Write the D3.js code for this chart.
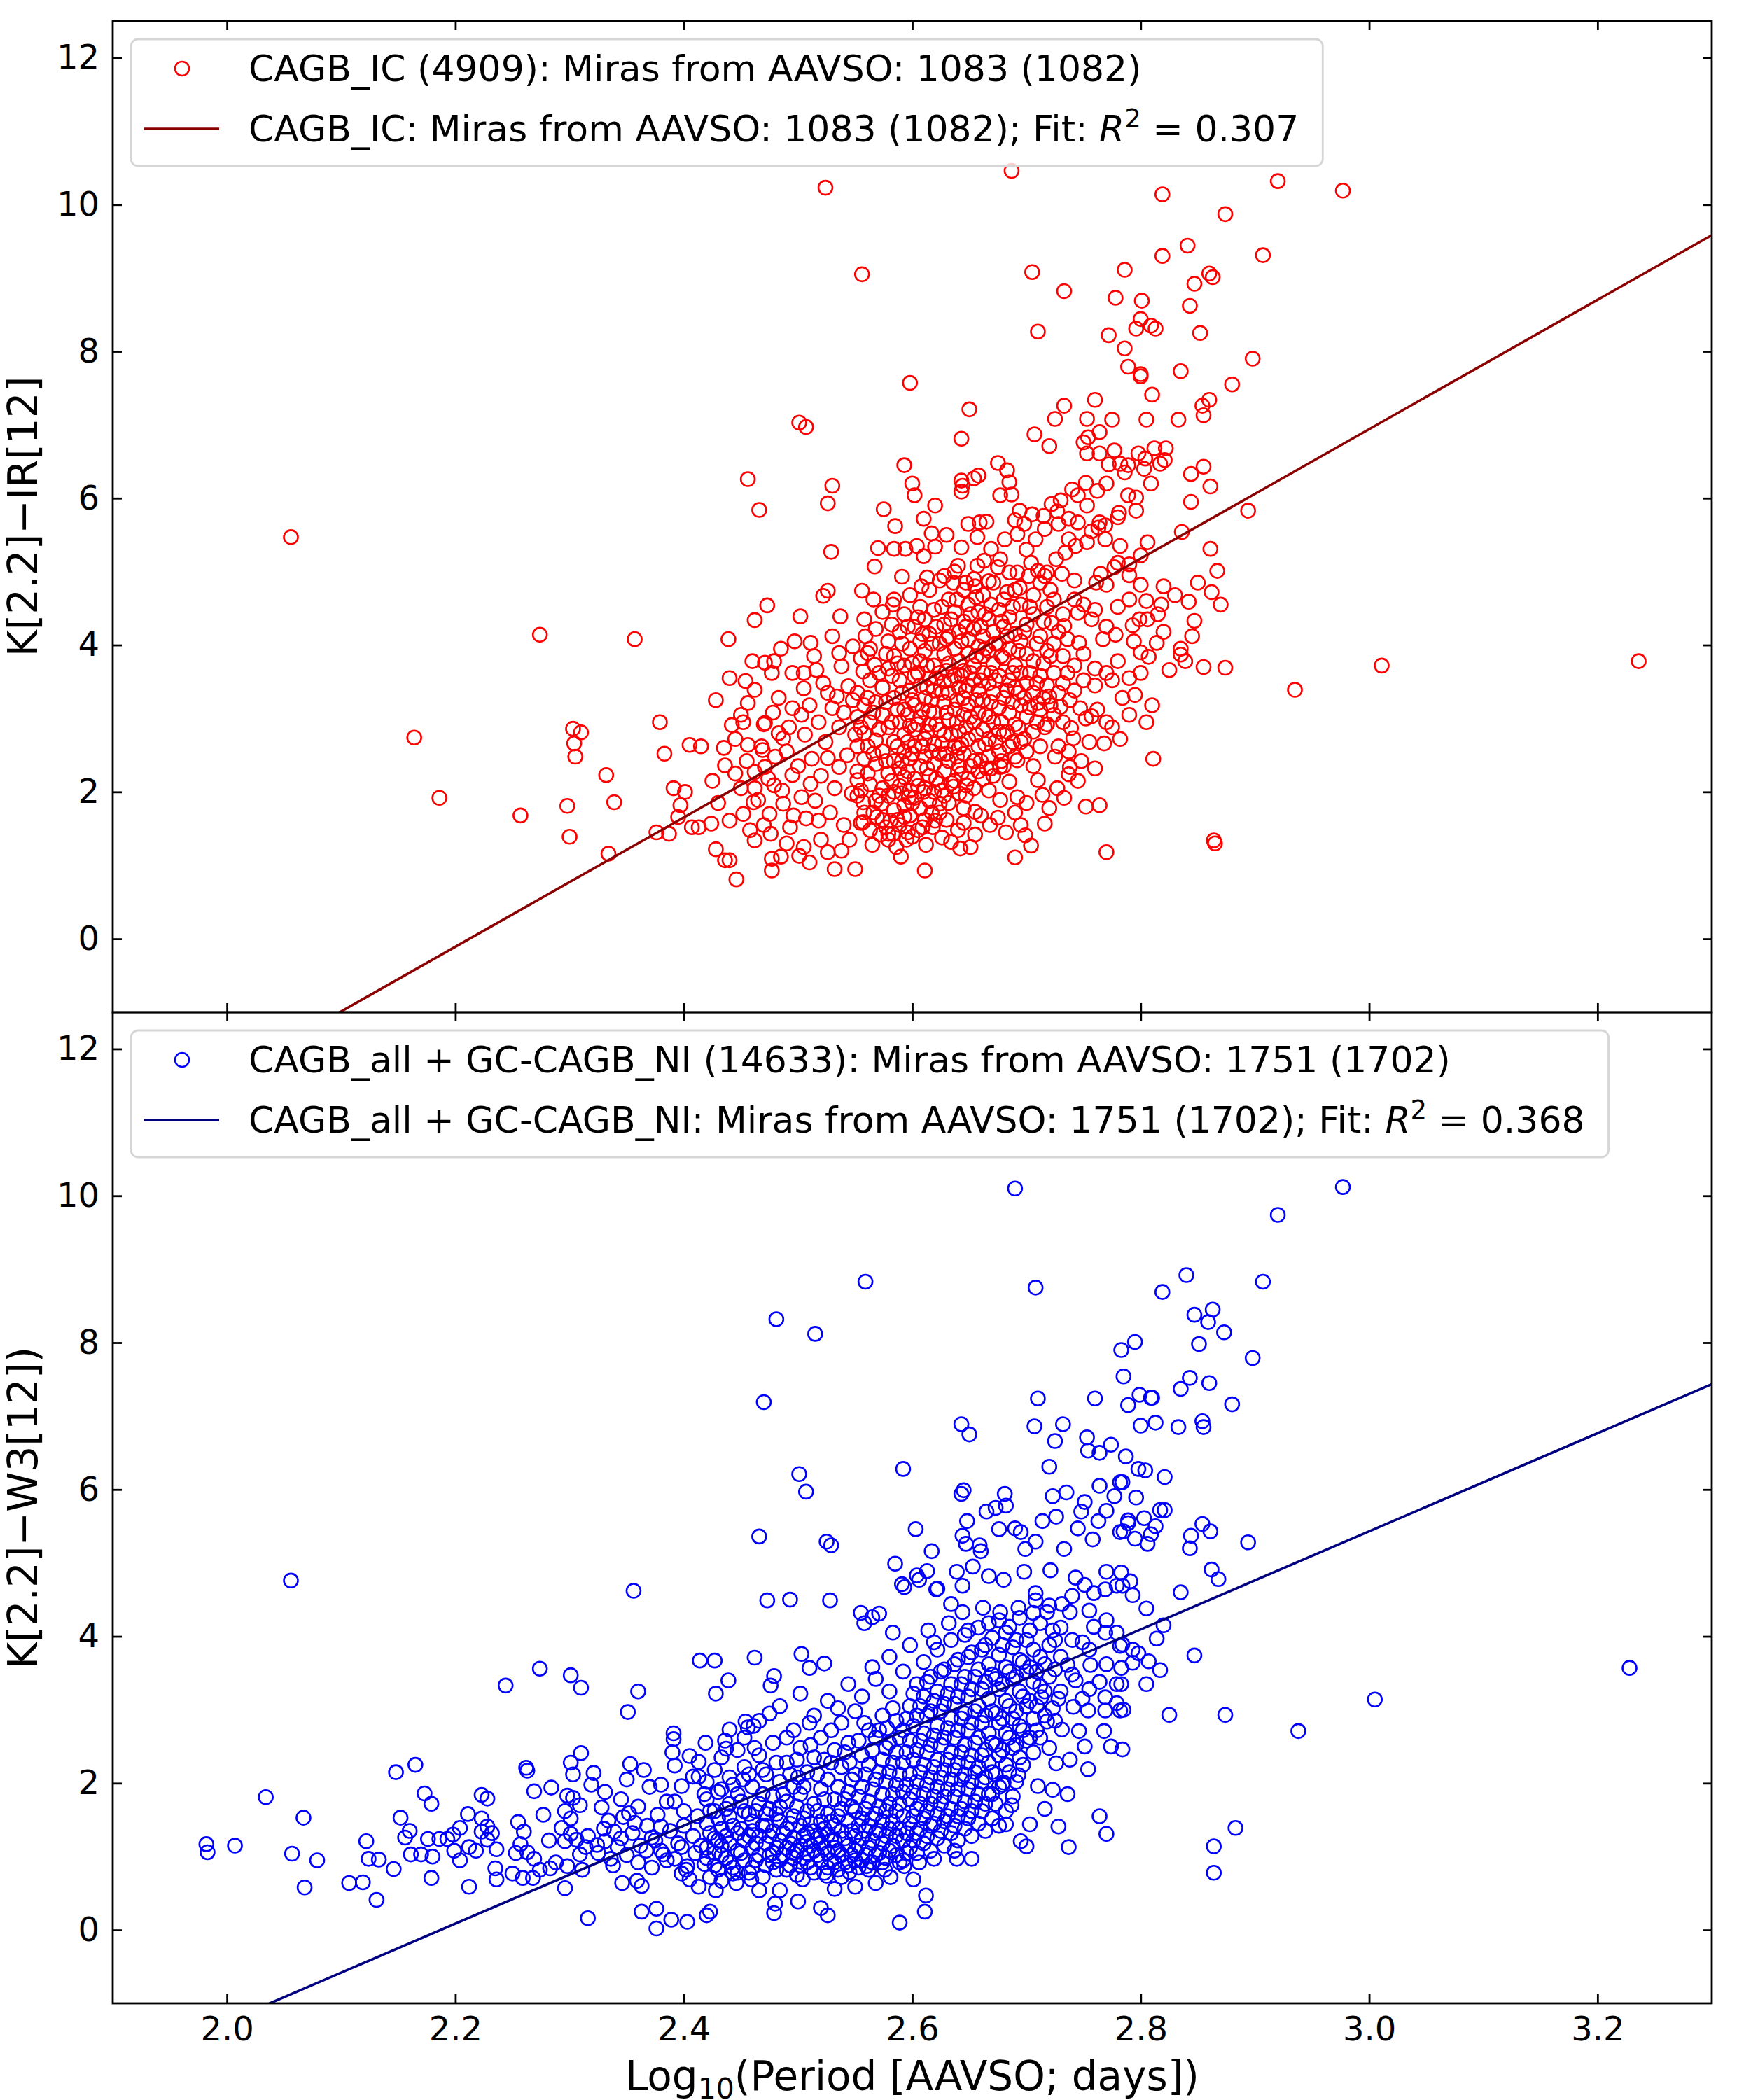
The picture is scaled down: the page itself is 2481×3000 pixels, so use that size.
<!DOCTYPE html>
<html>
<head>
<meta charset="utf-8">
<script src="https://cdn.jsdelivr.net/npm/d3@7"></script>
<style>
  body { margin: 0; background: #fff; }
</style>
</head>
<body>
<div id="chart"></div>
<script>
// axis setup
var xDomain = [1.9, 3.3];
var yDomain = [-1, 12.5];
var xTicks = [2.0, 2.2, 2.4, 2.6, 2.8, 3.0, 3.2];
var yTicks = [0, 2, 4, 6, 8, 10, 12];

// fits: [intercept, slope]
var topFit = [-19.49, 8.81];
var bottomFit = [-14.61, 6.68];

// top panel: K[2.2]-IR[12] vs log period
var topPoints = [
  // left, sparse
  [2.056,5.47],[2.164,2.74],[2.186,1.92],[2.274,4.14],[2.257,1.68],[2.298,1.81],[2.300,1.39],[2.303,2.86],
  [2.310,2.81],[2.305,2.48],[2.304,2.66],[2.332,2.23],[2.339,1.86],[2.334,1.16],[2.357,4.08],
  // lower left
  [2.379,2.95],[2.383,2.52],[2.405,2.64],[2.415,2.62],[2.391,2.05],[2.401,2.00],[2.397,1.82],[2.395,1.66],
  [2.376,1.45],[2.387,1.43],[2.407,1.52],[2.413,1.52],[2.424,1.57],[2.428,1.22],[2.436,1.07],[2.440,1.07],
  [2.446,0.81],[2.436,2.36],[2.445,2.25],[2.462,2.27],[2.471,2.34],[2.462,1.34],[2.476,1.43],[2.477,1.09],
  [2.477,0.93],[2.501,1.13],[2.510,1.04],[2.526,1.18],[2.532,0.95],[2.550,0.95],[2.611,0.93],[2.579,1.43],
  [2.583,1.43],[2.600,1.39],[2.620,1.61],[2.634,1.32],[2.642,1.23],[2.651,1.25],[2.655,1.73],[2.647,2.09],
  [2.667,2.02],[2.677,1.89],[2.692,1.93],[2.685,2.14],[2.665,2.32],[2.692,2.43],[2.677,2.34],[2.526,2.46],
  [2.536,2.34],[2.552,2.16],[2.557,1.86],[2.573,1.84],[2.581,1.61],[2.593,1.66],[2.597,1.93],[2.610,2.00],
  [2.624,1.84],[2.636,2.07],[2.557,1.59],[2.569,1.66],[2.507,1.64],[2.518,1.61],[2.493,1.52],[2.487,1.84],
  [2.503,1.93],[2.511,2.11],[2.495,2.23],[2.479,2.09],[2.465,1.89],[2.452,1.70],[2.440,1.61],[2.461,1.86],
  [2.475,1.70],
  // left middle
  [2.454,3.51],[2.462,3.39],[2.471,3.76],[2.479,3.78],[2.477,3.62],[2.495,3.62],[2.505,3.62],[2.516,3.66],
  [2.522,3.48],[2.536,3.89],[2.548,3.98],[2.559,4.12],[2.561,3.89],[2.557,3.64],[2.567,3.73],[2.538,3.71],
  [2.544,3.44],[2.534,3.30],[2.530,3.14],[2.503,3.05],[2.505,3.41],[2.483,3.28],[2.495,3.14],[2.471,2.94],
  [2.483,2.80],[2.487,2.73],[2.456,2.64],[2.469,2.57],[2.428,3.25],[2.456,3.21],[2.442,2.91],
  // upper edge
  [2.456,6.26],[2.466,5.84],[2.501,7.03],[2.507,6.97],[2.526,5.93],[2.530,6.17],[2.529,5.27],[2.593,6.45],
  [2.602,6.04],[2.643,6.81],[2.643,6.24],[2.644,6.17],[2.643,6.09],[2.654,6.27],[2.658,6.31],[2.675,6.48],
  [2.683,6.38],[2.685,6.22],[2.677,6.04],[2.687,6.05],[2.707,6.87],[2.720,6.71],
  [2.570,5.32],[2.584,5.31],[2.594,5.31],[2.604,5.35],[2.617,5.52],[2.620,5.34],[2.610,5.21],[2.567,5.07],
  [2.591,4.93],[2.608,4.80],[2.556,4.74],[2.526,4.74],[2.522,4.67],[2.583,4.55],[2.537,4.39],[2.502,4.39],
  [2.473,4.54],[2.462,4.34],[2.439,4.08],[2.511,4.03],
  // top right
  [2.524,10.23],[2.687,10.46],[2.556,9.05],[2.819,10.14],[2.920,10.32],[2.977,10.19],[2.874,9.87],[2.841,9.44],
  [2.819,9.30],[2.907,9.31],[2.705,9.08],[2.786,9.11],[2.860,9.06],[2.863,9.01],[2.847,8.92],[2.733,8.82],
  [2.778,8.73],[2.801,8.69],[2.843,8.62],[2.800,8.44],[2.796,8.31],[2.809,8.35],[2.813,8.31],[2.852,8.25],
  [2.710,8.27],[2.772,8.22],[2.786,8.04],[2.789,7.79],[2.800,7.69],[2.800,7.66],[2.835,7.73],[2.898,7.90],
  [2.880,7.55],[2.598,7.57],[2.650,7.21],[2.733,7.26],[2.760,7.34],[2.810,7.41],[2.860,7.34],[2.854,7.26],
  [2.855,7.13],[2.725,7.08],[2.753,7.08],[2.775,7.07],[2.805,7.07],[2.833,7.07],
  [2.764,6.90],[2.754,6.83],[2.750,6.76],[2.753,6.61],[2.764,6.61],[2.777,6.65],[2.772,6.46],[2.782,6.47],
  [2.786,6.35],[2.789,6.45],[2.798,6.61],[2.804,6.54],[2.803,6.40],[2.812,6.68],[2.822,6.68],[2.817,6.47],
  [2.821,6.52],[2.809,6.20],[2.844,6.33],[2.855,6.43],[2.861,6.16],[2.844,5.95],[2.894,5.83],
  // upper right of core
  [2.649,5.65],[2.659,5.67],[2.665,5.68],[2.669,5.31],[2.657,5.47],[2.681,5.44],[2.694,5.83],[2.698,5.65],
  [2.692,5.51],[2.708,5.44],[2.715,5.76],[2.722,5.92],[2.730,5.97],[2.728,5.65],[2.737,5.44],[2.745,6.04],
  [2.753,5.90],[2.762,6.10],[2.764,5.67],[2.769,5.44],[2.782,5.35],[2.781,5.80],[2.789,6.04],[2.796,5.83],
  [2.790,5.10],[2.777,5.06],[2.761,4.85],[2.765,4.97],[2.731,4.97],[2.716,4.94],[2.704,5.12],[2.692,4.99],
  [2.675,5.06],[2.667,4.87],[2.655,4.80],[2.643,5.33],[2.640,5.08],[2.806,5.40],[2.861,5.31],[2.867,5.01],
  [2.836,5.54],[2.820,4.80],[2.805,4.60],[2.818,4.55],[2.842,4.59],[2.847,4.33],[2.799,4.35],[2.806,4.35],
  [2.793,4.27],
  // right middle
  [2.757,4.35],[2.745,4.44],[2.733,4.26],[2.722,4.30],[2.746,4.03],[2.767,4.08],[2.778,4.14],[2.794,4.05],
  [2.814,4.03],[2.807,3.84],[2.825,3.66],[2.835,3.87],[2.839,3.78],[2.874,3.69],[2.784,3.28],[2.775,2.88],
  [2.768,2.66],[2.811,2.45],[2.752,3.00],[2.757,3.03],[2.747,3.14],[2.738,3.25],[2.730,3.16],[2.720,3.30],
  [2.710,3.21],[2.716,2.88],[2.739,2.87],[2.741,2.73],[2.728,2.62],[2.737,2.55],[2.738,2.34],[2.737,2.24],
  [2.725,2.48],[2.706,2.35],[2.710,2.16],[2.714,1.96],[2.752,1.80],[2.764,1.82],[2.716,1.57],[2.699,1.41],
  [2.704,1.27],[2.690,1.11],[2.770,1.18],[2.864,1.34],[2.865,1.30],[2.935,3.39],[3.011,3.72],[3.236,3.78],
  // dense core
  [2.552,2.62],[2.552,3.02],[2.552,3.35],[2.552,2.28],[2.552,1.95],
  [2.558,2.45],[2.558,2.80],[2.558,3.18],[2.558,4.35],[2.558,1.72],
  [2.563,2.10],[2.563,2.95],[2.563,3.52],[2.563,3.95],[2.563,1.48],
  [2.568,2.38],[2.568,2.70],[2.568,3.22],[2.568,4.22],[2.568,1.88],
  [2.574,1.62],[2.574,2.05],[2.574,2.55],[2.574,3.05],[2.574,3.42],[2.574,4.45],
  [2.579,1.95],[2.579,2.25],[2.579,2.88],[2.579,3.68],[2.579,4.05],[2.579,1.35],
  [2.584,1.75],[2.584,2.42],[2.584,2.68],[2.584,3.28],[2.584,3.85],[2.584,4.62],[2.584,2.00],
  [2.589,2.08],[2.589,2.32],[2.589,2.95],[2.589,3.52],[2.589,4.18],[2.589,1.55],
  [2.593,1.82],[2.593,2.55],[2.593,2.78],[2.593,3.12],[2.593,3.72],[2.593,4.42],[2.593,2.20],
  [2.598,1.68],[2.598,2.02],[2.598,2.45],[2.598,3.38],[2.598,3.95],[2.598,4.68],[2.598,2.90],
  [2.602,2.18],[2.602,2.62],[2.602,2.85],[2.602,3.18],[2.602,3.58],[2.602,4.25],[2.602,1.92],
  [2.607,1.78],[2.607,2.35],[2.607,3.02],[2.607,3.45],[2.607,3.78],[2.607,4.05],[2.607,4.52],
  [2.611,2.05],[2.611,2.48],[2.611,2.72],[2.611,3.28],[2.611,3.92],[2.611,4.35],[2.611,1.62],
  [2.615,1.88],[2.615,2.22],[2.615,2.92],[2.615,3.55],[2.615,4.15],[2.615,4.75],[2.615,3.10],
  [2.619,2.38],[2.619,2.65],[2.619,3.08],[2.619,3.38],[2.619,3.72],[2.619,4.48],[2.619,2.00],
  [2.624,1.72],[2.624,2.12],[2.624,2.52],[2.624,2.85],[2.624,3.62],[2.624,4.02],[2.624,4.88],
  [2.628,2.28],[2.628,2.78],[2.628,3.22],[2.628,3.50],[2.628,3.88],[2.628,4.28],[2.628,1.95],
  [2.632,1.85],[2.632,2.42],[2.632,2.98],[2.632,3.35],[2.632,4.12],[2.632,4.62],[2.632,3.75],
  [2.637,2.15],[2.637,2.62],[2.637,3.12],[2.637,3.58],[2.637,3.95],[2.637,4.45],[2.637,5.00],
  [2.641,1.98],[2.641,2.35],[2.641,2.82],[2.641,3.42],[2.641,3.78],[2.641,4.18],[2.641,2.60],
  [2.645,2.52],[2.645,3.05],[2.645,3.28],[2.645,3.65],[2.645,4.32],[2.645,4.75],[2.645,1.78],
  [2.649,2.18],[2.649,2.72],[2.649,3.18],[2.649,3.88],[2.649,4.08],[2.649,4.55],[2.649,3.45],
  [2.654,2.42],[2.654,2.95],[2.654,3.52],[2.654,3.72],[2.654,4.22],[2.654,2.05],[2.654,4.90],
  [2.658,2.62],[2.658,3.08],[2.658,3.38],[2.658,3.98],[2.658,4.45],[2.658,2.28],
  [2.662,2.18],[2.662,2.85],[2.662,3.25],[2.662,3.62],[2.662,4.12],[2.662,4.68],[2.662,3.85],
  [2.667,2.48],[2.667,3.02],[2.667,3.48],[2.667,3.92],[2.667,4.35],[2.667,2.72],
  [2.671,2.22],[2.671,2.95],[2.671,3.35],[2.671,3.75],[2.671,4.18],[2.671,4.85],
  [2.676,2.55],[2.676,3.15],[2.676,3.58],[2.676,4.02],[2.676,4.48],[2.676,2.82],
  [2.680,2.35],[2.680,2.78],[2.680,3.28],[2.680,3.82],[2.680,4.25],[2.680,4.62],
  [2.685,2.62],[2.685,3.08],[2.685,3.52],[2.685,3.95],[2.685,4.38],
  [2.690,2.48],[2.690,2.92],[2.690,3.42],[2.690,3.72],[2.690,4.15],[2.690,4.75],
  [2.695,2.68],[2.695,3.18],[2.695,3.62],[2.695,4.05],[2.695,4.55],
  [2.700,2.55],[2.700,3.02],[2.700,3.48],[2.700,3.88],[2.700,4.28],
  [2.706,2.82],[2.706,3.35],[2.706,3.78],[2.706,4.42],[2.706,4.68],
  [2.712,2.62],[2.712,3.12],[2.712,3.58],[2.712,4.12],[2.712,4.85],
  [2.718,2.92],[2.718,3.45],[2.718,3.92],[2.718,4.52],
  [2.724,3.05],[2.724,3.62],[2.724,4.02],[2.724,4.62],
  [2.732,2.95],[2.732,3.48],[2.732,3.85],[2.732,4.42],
  [2.742,3.38],[2.742,3.72],[2.742,4.62],[2.742,4.88],
  [2.750,3.52],[2.750,3.88],[2.750,4.55],[2.760,3.45],[2.760,3.68],[2.760,4.48],
  [2.770,3.62],[2.770,4.25],[2.770,4.82],[2.780,3.78],[2.780,4.52],[2.780,5.12],
  [2.790,3.55],[2.790,4.62],[2.790,4.95],[2.800,4.82],[2.800,5.22],[2.800,3.90],
  // more of the dense core
  [2.555,1.58],[2.555,2.02],[2.555,2.88],[2.555,3.82],[2.561,2.25],[2.561,2.62],[2.561,3.28],
  [2.566,1.72],[2.566,2.52],[2.566,3.08],[2.566,4.62],[2.571,1.95],[2.571,2.85],[2.571,3.62],
  [2.577,2.42],[2.577,3.22],[2.577,3.88],[2.577,1.52],[2.582,2.15],[2.582,2.95],[2.582,3.58],[2.582,4.28],
  [2.587,1.62],[2.587,2.62],[2.587,3.12],[2.587,3.75],[2.591,1.98],[2.591,2.42],[2.591,3.35],[2.591,4.02],
  [2.596,2.28],[2.596,2.68],[2.596,3.05],[2.596,4.25],[2.596,1.45],[2.600,1.85],[2.600,2.52],[2.600,3.25],
  [2.600,3.75],[2.605,2.08],[2.605,2.92],[2.605,3.62],[2.605,4.38],[2.609,1.52],[2.609,2.62],[2.609,3.12],
  [2.609,4.15],[2.613,2.32],[2.613,2.82],[2.613,3.42],[2.613,3.72],[2.613,4.92],[2.617,1.72],[2.617,2.55],
  [2.617,3.25],[2.617,4.02],[2.621,2.18],[2.621,2.92],[2.621,3.55],[2.621,4.25],[2.626,2.02],[2.626,2.65],
  [2.626,3.35],[2.626,4.52],[2.630,2.52],[2.630,3.08],[2.630,3.65],[2.630,4.08],[2.634,2.12],[2.634,2.78],
  [2.634,3.52],[2.634,4.35],[2.639,2.48],[2.639,2.95],[2.639,3.25],[2.639,4.62],[2.643,2.25],[2.643,2.65],
  [2.643,3.58],[2.643,4.05],[2.647,1.95],[2.647,2.88],[2.647,3.38],[2.647,4.25],[2.651,2.35],[2.651,3.02],
  [2.651,3.62],[2.651,4.42],[2.656,2.78],[2.656,3.25],[2.656,3.85],[2.656,4.65],[2.660,2.42],[2.660,3.52],
  [2.660,4.25],[2.664,2.65],[2.664,3.05],[2.664,3.95],[2.664,4.42],[2.669,2.32],[2.669,3.22],[2.669,3.62],
  [2.669,4.55],[2.673,2.68],[2.673,3.52],[2.673,4.02],[2.678,2.42],[2.678,2.95],[2.678,3.85],[2.678,4.32],
  [2.683,2.82],[2.683,3.38],[2.683,4.12],[2.683,4.72],[2.688,2.68],[2.688,3.22],[2.688,3.62],[2.688,4.52],
  [2.693,2.88],[2.693,3.35],[2.693,3.92],[2.698,2.72],[2.698,3.28],[2.698,4.18],[2.703,3.15],[2.703,3.62],
  [2.703,4.52],[2.709,2.95],[2.709,3.48],[2.709,4.02],[2.715,3.28],[2.715,3.75],[2.715,4.32],[2.721,3.18],
  [2.721,3.85],[2.721,4.75],[2.728,3.35],[2.728,4.18],[2.736,3.62],[2.736,4.08],
  // upper core band
  [2.628,4.94],[2.636,4.85],[2.647,4.85],[2.657,5.08],[2.663,5.15],[2.677,5.17],[2.685,4.99],[2.694,4.78],
  [2.702,4.94],[2.710,5.01],[2.718,4.99],[2.726,5.17],[2.734,5.26],[2.743,5.35],[2.753,5.40],[2.757,5.55],
  [2.763,5.60],[2.769,5.63],[2.780,5.74],[2.796,6.01],[2.745,5.67],[2.737,5.72],[2.700,5.30],[2.690,5.70],
  [2.705,5.78],[2.716,5.58],[2.727,5.82],[2.740,6.12],[2.752,6.21],[2.770,6.20],
  [2.585,5.62],[2.575,5.85],[2.610,5.72],[2.600,6.20],[2.620,5.90],[2.630,5.50],
  // lower left of core
  [2.455,2.42],[2.462,2.05],[2.468,2.62],[2.474,2.18],[2.480,2.48],[2.486,2.02],[2.490,2.55],[2.496,1.68],
  [2.500,2.35],[2.506,2.78],[2.512,2.45],[2.515,1.88],[2.520,2.22],[2.524,2.68],[2.528,1.72],[2.532,2.05],
  [2.536,2.88],[2.540,1.55],[2.543,2.50],[2.547,1.98],[2.550,2.78],[2.545,1.35],[2.538,1.20],[2.520,1.35],
  [2.505,1.25],[2.490,1.30],[2.485,1.12],[2.470,1.55],[2.458,1.48],[2.450,2.05],[2.445,2.72],[2.452,2.95],
  [2.435,2.60],[2.430,1.85],[2.425,2.15],[2.470,2.92],[2.478,3.08],[2.492,2.88],[2.510,3.18],[2.518,2.95],
  [2.526,3.35],[2.540,3.08],[2.548,3.25],[2.514,3.85],[2.530,4.12],[2.497,4.05],[2.485,3.95],[2.460,3.78],
  [2.440,3.55],[2.450,3.05],
  // lower part of core and right
  [2.565,1.28],[2.572,1.42],[2.586,1.25],[2.590,1.12],[2.595,1.35],[2.605,1.48],[2.612,1.28],[2.618,1.52],
  [2.626,1.38],[2.630,1.62],[2.640,1.48],[2.645,1.58],[2.655,1.42],[2.660,1.68],[2.668,1.55],[2.675,1.65],
  [2.682,1.45],[2.690,1.72],[2.695,1.55],[2.700,1.85],[2.720,1.78],[2.727,2.05],[2.733,1.92],[2.745,2.15],
  [2.748,2.42],[2.755,2.68],[2.760,2.32],[2.762,3.12],[2.770,2.95],[2.775,3.52],[2.782,2.72],[2.790,3.05],
  [2.795,3.32],[2.800,3.62],[2.805,2.95],[2.810,3.18],[2.815,4.42],[2.820,4.18],[2.830,4.68],[2.835,3.95],
  [2.845,4.12],[2.850,4.85],[2.855,3.70],[2.862,4.72],[2.870,4.55]
];

// bottom panel: K[2.2]-W3[12] vs log period
var bottomPoints = [
  // far left
  [1.982,1.17],[1.983,1.06],[2.007,1.15],[2.034,1.81],[2.056,4.76],[2.057,1.04],[2.067,1.53],[2.068,0.58],
  [2.079,0.95],[2.107,0.64],[2.119,0.65],[2.131,0.41],[2.122,1.21],[2.124,0.97],[2.133,0.96],[2.146,0.83],
  [2.148,2.15],[2.165,2.25],[2.152,1.53],[2.160,1.35],[2.156,1.26],[2.173,1.86],[2.179,1.72],[2.161,1.03],
  [2.170,1.03],[2.180,1.00],[2.176,1.24],[2.186,1.24],[2.193,1.24],[2.198,1.30],[2.179,0.71],[2.204,1.39],
  [2.211,1.58],[2.199,1.08],[2.204,0.95],[2.212,1.13],[2.218,1.08],[2.212,0.59],[2.223,1.84],[2.228,1.79],
  [2.223,1.52],[2.228,1.41],[2.232,1.32],[2.223,1.34],[2.228,1.23],[2.236,1.10],[2.235,0.84],[2.236,0.69],
  [2.244,3.33],[2.250,0.77],[2.259,0.71],[2.268,0.71],[2.255,1.47],[2.260,1.34],[2.257,1.17],[2.253,1.05],
  [2.263,1.06],[2.269,0.97],[2.262,2.21],[2.263,2.17],[2.274,3.56],[2.269,1.89],[2.284,1.94],[2.277,1.57],
  [2.274,0.82],[2.283,0.84],[2.296,0.57],[2.282,1.22],[2.301,3.47],[2.310,3.30],[2.301,2.28],[2.310,2.41],
  [2.303,2.12],[2.319,1.98],[2.321,2.14],[2.298,1.83],[2.303,1.80],[2.309,1.70],[2.296,1.62],[2.301,1.52],
  [2.293,1.39],[2.301,1.31],[2.296,1.21],[2.306,1.23],[2.316,1.28],[2.314,1.13],[2.324,1.16],[2.309,1.03],
  [2.288,0.92],[2.298,0.87],[2.311,0.82],[2.316,0.16],[2.328,1.67],[2.331,1.88],[2.334,1.49],[2.339,1.34],
  [2.331,1.21],[2.342,1.13],[2.336,0.97],[2.347,1.54],[2.352,1.59],[2.357,1.46],[2.351,2.97],[2.356,4.62],
  [2.353,2.26],[2.360,3.25],[2.346,0.64],[2.359,0.67],[2.363,0.60],[2.363,0.25],[2.376,0.29],[2.376,0.02],
  [2.389,0.14],[2.403,0.11],
  [2.325,1.05],[2.330,1.38],[2.338,0.88],[2.345,1.25],[2.350,1.02],[2.355,1.32],[2.360,0.92],[2.362,1.15],
  [2.368,1.42],[2.372,0.85],[2.375,1.22],[2.380,1.08],[2.385,0.95],[2.388,1.35],[2.395,1.18],[2.400,1.42],
  [2.402,0.82],[2.408,1.28],[2.412,1.55],[2.415,1.15],[2.418,1.85],[2.360,1.68],[2.345,1.78],[2.370,1.95],
  [2.365,2.18],[2.350,2.05],
  // middle left
  [2.372,1.26],[2.380,1.41],[2.367,1.08],[2.382,1.03],[2.392,0.97],[2.403,0.87],[2.398,1.13],[2.410,1.05],
  [2.418,0.90],[2.377,1.57],[2.385,1.75],[2.392,1.75],[2.400,1.62],[2.380,1.98],[2.398,1.96],[2.408,2.09],
  [2.413,2.09],[2.392,2.24],[2.390,2.42],[2.405,2.37],[2.413,2.29],[2.391,2.68],[2.391,2.60],[2.419,2.55],
  [2.437,2.47],[2.436,2.58],[2.440,2.73],[2.428,3.22],[2.439,3.40],[2.414,3.67],[2.427,3.67],[2.462,3.71],
  [2.456,2.76],[2.454,2.84],[2.461,2.78],[2.479,3.46],[2.476,3.33],[2.503,3.76],[2.523,3.63],[2.510,3.57],
  [2.466,5.36],[2.501,6.21],[2.507,5.97],[2.525,5.29],[2.529,5.24],[2.470,7.19],[2.473,4.49],[2.493,4.50],
  [2.528,4.49],[2.592,6.28],[2.555,4.32],[2.558,4.18],[2.565,4.26],[2.571,4.31],[2.583,4.05],[2.585,4.99],
  [2.591,4.71],[2.593,4.67],[2.606,4.77],[2.613,4.89],[2.621,4.64],[2.622,4.65],[2.603,5.46],[2.617,5.16],
  [2.643,6.89],[2.650,6.75],[2.643,5.94],[2.645,5.99],[2.648,5.57],
  [2.481,8.32],[2.515,8.12],[2.559,8.83],[2.690,10.10],[2.708,8.75],
  // upper cloud
  [2.644,5.37],[2.647,5.26],[2.659,5.24],[2.660,5.16],[2.665,5.70],[2.673,5.75],[2.681,5.94],[2.682,5.78],
  [2.676,5.46],[2.690,5.47],[2.695,5.42],[2.699,5.19],[2.708,5.29],[2.714,5.57],[2.726,5.63],[2.723,5.91],
  [2.735,5.96],[2.707,6.86],[2.710,7.24],[2.720,6.31],[2.725,6.66],[2.732,6.89],[2.753,6.71],[2.754,6.53],
  [2.764,6.50],[2.774,6.61],[2.760,7.24],[2.764,6.05],[2.782,6.10],[2.777,5.91],[2.751,5.83],[2.748,5.70],
  [2.770,5.71],[2.763,5.57],[2.745,5.47],[2.758,5.32],[2.782,5.42],
  [2.604,4.83],[2.639,4.88],[2.644,4.69],[2.653,4.95],[2.667,4.82],[2.680,4.77],[2.698,4.88],[2.708,4.59],
  [2.721,4.90],[2.733,5.19],[2.743,4.80],[2.751,4.70],[2.759,4.59],[2.769,4.64],[2.779,4.69],[2.779,4.05],
  [2.769,4.05],[2.759,4.13],[2.749,3.92],[2.782,3.87],[2.634,4.44],[2.644,4.33],[2.662,4.39],[2.677,4.33],
  [2.693,4.39],[2.708,4.49],[2.718,4.33],[2.731,4.44],[2.738,4.33],[2.632,4.18],[2.649,4.08],[2.667,4.18],
  [2.685,4.13],[2.703,4.08],[2.723,4.08],[2.614,4.08],[2.619,3.92],
  // right side
  [2.736,3.61],[2.743,3.40],[2.756,3.61],[2.764,3.38],[2.779,3.35],[2.769,3.17],[2.779,3.09],[2.782,2.99],
  [2.769,2.99],[2.749,3.15],[2.754,2.99],[2.741,3.04],[2.728,3.15],[2.713,3.17],[2.723,3.02],[2.718,2.84],
  [2.731,2.73],[2.746,2.71],[2.768,2.71],[2.774,2.50],[2.751,2.50],[2.738,2.32],[2.754,2.19],[2.726,2.27],
  [2.710,1.96],[2.723,1.91],[2.736,1.85],[2.716,1.65],[2.703,1.44],[2.728,1.41],[2.700,1.14],[2.737,1.13],
  [2.764,1.55],[2.770,1.31],[2.695,1.21],[2.682,1.44],[2.687,1.70],[2.670,1.85],[2.680,2.01],[2.693,2.11],
  // bottom of core
  [2.589,0.10],[2.611,0.25],[2.612,0.47],[2.601,0.69],[2.581,0.72],[2.568,0.64],[2.550,0.59],[2.532,0.56],
  [2.526,0.20],[2.520,0.30],[2.500,0.39],[2.479,0.23],[2.480,0.36],[2.484,0.54],[2.466,0.54],[2.446,0.64],
  [2.428,0.54],[2.423,0.25],[2.420,0.20],[2.433,0.67],[2.405,0.69],[2.413,0.59],[2.398,0.77],[2.443,0.77],
  [2.459,0.69],[2.504,0.69],[2.525,0.74],[2.545,0.79],[2.560,0.87],[2.576,0.82],[2.593,0.87],[2.606,0.92],
  [2.619,0.97],[2.637,1.08],[2.652,0.97],[2.639,0.97],
  // far right
  [2.977,10.12],[2.920,9.74],[2.840,8.92],[2.907,8.83],[2.819,8.69],[2.847,8.38],[2.863,8.45],[2.859,8.28],
  [2.873,8.14],[2.795,8.01],[2.851,7.98],[2.898,7.79],[2.783,7.90],[2.785,7.54],[2.843,7.52],[2.860,7.45],
  [2.835,7.37],[2.799,7.29],[2.809,7.25],[2.810,7.25],[2.789,7.15],[2.880,7.16],[2.800,6.87],[2.813,6.91],
  [2.833,6.85],[2.854,6.93],[2.855,6.85],[2.787,6.45],[2.798,6.28],[2.804,6.26],[2.821,6.17],[2.784,6.10],
  [2.796,5.89],[2.817,5.72],[2.821,5.72],[2.789,5.58],[2.789,5.54],[2.803,5.61],[2.813,5.50],[2.809,5.39],
  [2.795,5.33],[2.785,5.43],[2.806,5.26],[2.854,5.53],[2.861,5.43],[2.844,5.37],[2.843,5.20],[2.894,5.28],
  [2.862,4.91],[2.868,4.78],[2.783,4.87],[2.791,4.75],[2.784,4.69],[2.793,4.56],[2.835,4.60],[2.805,4.38],
  [2.820,4.15],[2.814,3.97],[2.784,3.89],[2.793,3.82],[2.798,3.77],[2.807,3.66],[2.793,3.64],[2.817,3.54],
  [2.847,3.74],[2.783,3.57],[2.805,3.35],[2.783,3.35],[2.785,3.00],[2.825,2.93],[2.874,2.93],[2.938,2.71],
  [3.005,3.14],[3.228,3.57],[2.784,2.46],[2.883,1.39],[2.864,1.14],[2.864,0.78],
  // dense core
  [2.420,1.12],[2.420,1.45],[2.420,1.78],[2.420,2.02],[2.420,0.98],
  [2.427,1.25],[2.427,1.62],[2.427,0.88],[2.427,2.18],[2.427,1.05],
  [2.433,1.02],[2.433,1.38],[2.433,1.92],[2.433,2.35],[2.433,1.15],
  [2.440,0.92],[2.440,1.18],[2.440,1.55],[2.440,2.08],[2.440,1.72],
  [2.447,1.08],[2.447,1.32],[2.447,1.85],[2.447,2.45],[2.447,0.78],
  [2.453,0.95],[2.453,1.22],[2.453,1.62],[2.453,2.22],[2.453,2.62],
  [2.460,1.12],[2.460,1.48],[2.460,1.95],[2.460,0.85],[2.460,1.35],
  [2.466,1.02],[2.466,1.28],[2.466,1.72],[2.466,2.38],[2.466,2.85],
  [2.472,0.88],[2.472,1.18],[2.472,1.58],[2.472,2.12],[2.472,1.42],
  [2.478,1.05],[2.478,1.35],[2.478,1.82],[2.478,2.55],[2.478,0.92],
  [2.484,0.95],[2.484,1.22],[2.484,1.48],[2.484,2.02],[2.484,3.05],[2.484,1.68],
  [2.490,1.12],[2.490,1.38],[2.490,1.75],[2.490,2.28],[2.490,0.82],
  [2.496,0.98],[2.496,1.25],[2.496,1.55],[2.496,1.95],[2.496,2.72],[2.496,1.05],
  [2.502,1.15],[2.502,1.42],[2.502,1.85],[2.502,2.48],[2.502,0.88],[2.502,3.22],
  [2.508,0.92],[2.508,1.20],[2.508,1.32],[2.508,1.62],[2.508,2.15],[2.508,1.05],
  [2.514,1.08],[2.514,1.35],[2.514,1.72],[2.514,2.35],[2.514,2.92],[2.514,0.78],
  [2.520,0.95],[2.520,1.18],[2.520,1.48],[2.520,1.92],[2.520,2.62],[2.520,1.28],
  [2.526,1.05],[2.526,1.30],[2.526,1.58],[2.526,2.05],[2.526,3.12],[2.526,0.85],
  [2.532,0.92],[2.532,1.22],[2.532,1.42],[2.532,1.78],[2.532,2.45],[2.532,1.12],
  [2.538,1.02],[2.538,1.35],[2.538,1.65],[2.538,2.22],[2.538,2.82],[2.538,0.72],
  [2.544,0.88],[2.544,1.15],[2.544,1.48],[2.544,1.88],[2.544,2.55],[2.544,3.35],
  [2.550,1.08],[2.550,1.28],[2.550,1.62],[2.550,2.12],[2.550,2.98],[2.550,0.95],
  [2.556,0.95],[2.556,1.25],[2.556,1.52],[2.556,1.95],[2.556,2.38],[2.556,3.18],
  [2.562,1.12],[2.562,1.42],[2.562,1.75],[2.562,2.25],[2.562,2.72],[2.562,0.82],
  [2.568,1.02],[2.568,1.32],[2.568,1.58],[2.568,2.05],[2.568,2.62],[2.568,3.42],
  [2.574,0.92],[2.574,1.18],[2.574,1.48],[2.574,1.85],[2.574,2.32],[2.574,2.92],
  [2.580,1.08],[2.580,1.38],[2.580,1.72],[2.580,2.15],[2.580,2.55],[2.580,3.25],[2.580,3.72],
  [2.586,1.02],[2.586,1.28],[2.586,1.62],[2.586,1.98],[2.586,2.42],[2.586,2.85],
  [2.592,0.95],[2.592,1.22],[2.592,1.55],[2.592,1.88],[2.592,2.28],[2.592,2.72],[2.592,3.52],
  [2.598,1.12],[2.598,1.45],[2.598,1.78],[2.598,2.12],[2.598,2.58],[2.598,3.05],[2.598,3.88],
  [2.604,1.05],[2.604,1.32],[2.604,1.65],[2.604,2.02],[2.604,2.45],[2.604,2.92],[2.604,3.35],
  [2.610,1.18],[2.610,1.52],[2.610,1.85],[2.610,2.25],[2.610,2.68],[2.610,3.18],[2.610,3.65],
  [2.616,1.08],[2.616,1.42],[2.616,1.72],[2.616,2.08],[2.616,2.52],[2.616,2.98],[2.616,3.45],
  [2.622,1.25],[2.622,1.58],[2.622,1.95],[2.622,2.32],[2.622,2.78],[2.622,3.25],[2.622,3.82],
  [2.628,1.15],[2.628,1.48],[2.628,1.82],[2.628,2.18],[2.628,2.62],[2.628,3.08],[2.628,3.55],
  [2.634,1.32],[2.634,1.65],[2.634,2.05],[2.634,2.42],[2.634,2.88],[2.634,3.35],[2.634,3.95],
  [2.640,1.22],[2.640,1.55],[2.640,1.92],[2.640,2.28],[2.640,2.72],[2.640,3.18],[2.640,3.68],
  [2.646,1.38],[2.646,1.75],[2.646,2.12],[2.646,2.52],[2.646,2.95],[2.646,3.45],[2.646,4.02],
  [2.652,1.28],[2.652,1.62],[2.652,2.02],[2.652,2.38],[2.652,2.82],[2.652,3.28],[2.652,3.78],
  [2.658,1.45],[2.658,1.85],[2.658,2.22],[2.658,2.62],[2.658,3.05],[2.658,3.55],[2.658,4.12],
  [2.664,1.35],[2.664,1.72],[2.664,2.08],[2.664,2.45],[2.664,2.92],[2.664,3.38],[2.664,3.88],
  [2.670,1.52],[2.670,2.15],[2.670,2.55],[2.670,2.98],[2.670,3.48],[2.670,3.98],
  [2.676,1.42],[2.676,1.95],[2.676,2.38],[2.676,2.82],[2.676,3.28],[2.676,3.75],[2.676,4.22],
  [2.682,1.62],[2.682,2.25],[2.682,2.68],[2.682,3.12],[2.682,3.58],[2.682,4.05],
  [2.688,1.82],[2.688,2.48],[2.688,2.88],[2.688,3.42],[2.688,3.85],
  [2.694,2.35],[2.694,2.78],[2.694,3.25],[2.694,3.68],[2.694,4.25],
  [2.700,2.58],[2.700,3.05],[2.700,3.52],[2.700,3.95],
  [2.706,2.42],[2.706,2.88],[2.706,3.38],[2.706,3.82],[2.706,4.32],
  [2.712,2.62],[2.712,3.32],[2.712,3.72],[2.712,4.18],
  [2.720,2.48],[2.720,3.45],[2.720,3.88],[2.720,4.42],
  [2.730,3.25],[2.730,3.72],[2.730,4.12],[2.740,3.48],[2.740,3.95],[2.740,4.55],
  [2.755,3.28],[2.755,3.82],[2.755,4.35],[2.770,3.62],[2.770,4.22],[2.770,4.88],
  [2.452,2.05],[2.462,2.48],[2.475,2.95],[2.490,2.62],[2.500,2.08],[2.510,2.82],[2.523,2.32],[2.535,3.02],
  [2.545,2.28],[2.558,2.82],[2.565,3.58],[2.578,2.75],
  // more of the dense core
  [2.423,0.72],[2.423,1.32],[2.423,1.62],[2.430,0.82],[2.430,1.22],[2.430,1.52],[2.430,1.88],
  [2.437,0.98],[2.437,1.28],[2.437,1.65],[2.443,0.85],[2.443,1.42],[2.443,1.98],[2.450,1.05],[2.450,1.38],
  [2.450,1.75],[2.457,0.78],[2.457,1.28],[2.457,1.58],[2.457,2.12],[2.463,0.95],[2.463,1.18],[2.463,1.62],
  [2.469,0.72],[2.469,1.42],[2.469,1.85],[2.469,2.18],[2.475,1.02],[2.475,1.28],[2.475,1.65],[2.481,0.82],
  [2.481,1.12],[2.481,1.58],[2.481,2.28],[2.487,1.02],[2.487,1.32],[2.487,1.85],[2.493,0.88],[2.493,1.18],
  [2.493,1.45],[2.493,2.12],[2.499,0.75],[2.499,1.08],[2.499,1.68],[2.499,2.32],[2.505,0.98],[2.505,1.28],
  [2.505,1.52],[2.505,1.95],[2.511,0.85],[2.511,1.15],[2.511,1.45],[2.511,2.52],[2.517,1.02],[2.517,1.25],
  [2.517,1.62],[2.517,2.12],[2.523,0.78],[2.523,1.12],[2.523,1.38],[2.523,1.78],[2.529,0.95],[2.529,1.22],
  [2.529,1.48],[2.529,2.28],[2.529,2.72],[2.535,0.82],[2.535,1.08],[2.535,1.55],[2.535,1.95],[2.541,0.92],
  [2.541,1.25],[2.541,1.78],[2.541,2.42],[2.547,1.02],[2.547,1.35],[2.547,1.68],[2.547,2.05],[2.553,0.85],
  [2.553,1.15],[2.553,1.42],[2.553,1.82],[2.553,2.58],[2.559,1.02],[2.559,1.35],[2.559,1.65],[2.559,2.12],
  [2.565,0.92],[2.565,1.22],[2.565,1.52],[2.565,1.92],[2.565,2.45],[2.571,1.05],[2.571,1.35],[2.571,1.68],
  [2.571,2.15],[2.571,2.72],[2.577,0.98],[2.577,1.28],[2.577,1.62],[2.577,2.02],[2.577,2.48],[2.583,1.15],
  [2.583,1.48],[2.583,1.85],[2.583,2.28],[2.583,3.02],[2.589,0.92],[2.589,1.38],[2.589,1.72],[2.589,2.12],
  [2.589,2.62],[2.595,1.05],[2.595,1.32],[2.595,1.98],[2.595,2.42],[2.595,2.88],[2.601,1.22],[2.601,1.55],
  [2.601,1.88],[2.601,2.32],[2.601,2.78],[2.601,3.22],[2.607,1.38],[2.607,1.72],[2.607,2.15],[2.607,2.58],
  [2.607,3.05],[2.613,1.28],[2.613,1.62],[2.613,1.98],[2.613,2.42],[2.613,2.92],[2.613,3.38],[2.619,1.45],
  [2.619,1.82],[2.619,2.22],[2.619,2.65],[2.619,3.12],[2.625,1.35],[2.625,1.72],[2.625,2.08],[2.625,2.52],
  [2.625,2.98],[2.625,3.52],[2.631,1.55],[2.631,1.92],[2.631,2.32],[2.631,2.75],[2.631,3.22],[2.637,1.42],
  [2.637,1.82],[2.637,2.18],[2.637,2.62],[2.637,3.08],[2.637,3.62],[2.643,1.65],[2.643,2.05],[2.643,2.42],
  [2.643,2.88],[2.643,3.35],[2.649,1.52],[2.649,1.92],[2.649,2.28],[2.649,2.72],[2.649,3.18],[2.649,3.72],
  [2.655,1.75],[2.655,2.15],[2.655,2.55],[2.655,2.98],[2.655,3.45],[2.661,1.62],[2.661,2.02],[2.661,2.38],
  [2.661,2.82],[2.661,3.28],[2.661,3.82],[2.667,1.85],[2.667,2.28],[2.667,2.68],[2.667,3.15],[2.667,3.62],
  [2.673,1.72],[2.673,2.12],[2.673,2.52],[2.673,2.95],[2.673,3.42],[2.679,1.98],[2.679,2.45],[2.679,2.88],
  [2.679,3.35],[2.679,3.88],[2.685,2.15],[2.685,2.62],[2.685,3.05],[2.685,3.52],[2.691,2.02],[2.691,2.52],
  [2.691,2.98],[2.691,3.45],[2.691,3.95],[2.697,2.25],[2.697,2.72],[2.697,3.18],[2.697,3.65],[2.703,2.62],
  [2.703,3.12],[2.703,3.58],[2.709,2.72],[2.709,3.05],[2.709,3.52],[2.716,2.92],[2.716,3.25],[2.716,3.62],
  [2.725,2.85],[2.725,3.55],[2.725,3.95]
];

var panels = [
  {
    points: topPoints, fit: topFit, color: "#ff0000", lineColor: "#8b0000",
    ylabel: "K[2.2]\u2212IR[12]",
    legendScatter: "CAGB_IC (4909): Miras from AAVSO: 1083 (1082)",
    legendLine: "CAGB_IC: Miras from AAVSO: 1083 (1082); Fit: ",
    r2: "0.307"
  },
  {
    points: bottomPoints, fit: bottomFit, color: "#0000ff", lineColor: "#000080",
    ylabel: "K[2.2]\u2212W3[12])",
    legendScatter: "CAGB_all + GC-CAGB_NI (14633): Miras from AAVSO: 1751 (1702)",
    legendLine: "CAGB_all + GC-CAGB_NI: Miras from AAVSO: 1751 (1702); Fit: ",
    r2: "0.368"
  }
];

var width = 2481, height = 3000;
var left = 161, right = 2445;
var panelTop = [30, 1446], panelH = 1416;
var font = "'DejaVu Sans', sans-serif";

var svg = d3.select("#chart").append("svg")
  .attr("width", width)
  .attr("height", height)
  .style("font-family", font);

svg.append("rect").attr("width", width).attr("height", height).attr("fill", "#fff");

var x = d3.scaleLinear().domain(xDomain).range([left, right]);

panels.forEach(function (p, i) {
  var top = panelTop[i], bottom = top + panelH;
  var y = d3.scaleLinear().domain(yDomain).range([bottom, top]);
  var g = svg.append("g");

  g.append("clipPath").attr("id", "clip" + i)
    .append("rect")
      .attr("x", left).attr("y", top)
      .attr("width", right - left).attr("height", panelH);

  // points
  g.append("g")
    .attr("clip-path", "url(#clip" + i + ")")
    .selectAll("circle")
    .data(p.points)
    .enter()
    .append("circle")
      .attr("cx", function (d) { return x(d[0]); })
      .attr("cy", function (d) { return y(d[1]); })
      .attr("r", 10)
      .attr("fill", "none")
      .attr("stroke", p.color)
      .attr("stroke-width", 2.6);

  // fit line
  var line = d3.line()
    .x(function (d) { return x(d); })
    .y(function (d) { return y(p.fit[0] + p.fit[1] * d); });
  g.append("path")
    .datum(xDomain)
    .attr("clip-path", "url(#clip" + i + ")")
    .attr("d", line)
    .attr("fill", "none")
    .attr("stroke", p.lineColor)
    .attr("stroke-width", 3.6);

  // axes, ticks pointing in
  var axes = [
    { a: d3.axisLeft(y).tickValues(yTicks).tickFormat(d3.format("d")), t: "translate(" + left + ",0)" },
    { a: d3.axisRight(y).tickValues(yTicks).tickFormat(""), t: "translate(" + right + ",0)" },
    { a: d3.axisTop(x).tickValues(xTicks).tickFormat(""), t: "translate(0," + top + ")" },
    { a: d3.axisBottom(x).tickValues(xTicks).tickFormat(i == 1 ? d3.format(".1f") : ""), t: "translate(0," + bottom + ")" }
  ];
  axes.forEach(function (ax) {
    var ag = g.append("g")
      .attr("transform", ax.t)
      .call(ax.a.tickSize(-13).tickPadding(19));
    ag.select(".domain").remove();
    ag.selectAll("line").attr("stroke", "#000").attr("stroke-width", 2.8);
    ag.selectAll("text").attr("fill", "#000").style("font-size", "48px").style("font-family", font);
  });

  g.append("rect")
    .attr("x", left).attr("y", top)
    .attr("width", right - left).attr("height", panelH)
    .attr("fill", "none").attr("stroke", "#000").attr("stroke-width", 2.8);

  // y label
  g.append("text")
    .attr("transform", "translate(53," + (top + panelH / 2) + ") rotate(-90)")
    .attr("text-anchor", "middle")
    .style("font-size", "58px")
    .text(p.ylabel);

  // legend
  var lg = g.append("g").attr("transform", "translate(187," + (top + 26) + ")");
  var box = lg.append("rect")
    .attr("x", 0).attr("y", 0).attr("height", 181).attr("rx", 10)
    .attr("fill", "#fff").attr("fill-opacity", 0.8)
    .attr("stroke", "#d6d6d6").attr("stroke-width", 2.8);
  lg.append("circle")
    .attr("cx", 73).attr("cy", 42).attr("r", 10)
    .attr("fill", "none").attr("stroke", p.color).attr("stroke-width", 2.6);
  lg.append("line")
    .attr("x1", 19).attr("x2", 126).attr("y1", 128).attr("y2", 128)
    .attr("stroke", p.lineColor).attr("stroke-width", 3.6);
  var t1 = lg.append("text")
    .attr("x", 168).attr("y", 60)
    .style("font-size", "52px")
    .text(p.legendScatter);
  var t2 = lg.append("text")
    .attr("x", 168).attr("y", 146)
    .style("font-size", "52px");
  t2.append("tspan").text(p.legendLine);
  t2.append("tspan").style("font-style", "italic").text("R");
  t2.append("tspan").attr("dy", -20).style("font-size", "37px").text("2");
  t2.append("tspan").attr("dy", 20).text(" = " + p.r2);
  var w = Math.max(t1.node().getComputedTextLength(), t2.node().getComputedTextLength());
  box.attr("width", 168 + w + 34);
});

// x label
var xl = svg.append("text")
  .attr("x", (left + right) / 2)
  .attr("y", 2986)
  .attr("text-anchor", "middle")
  .style("font-size", "58px");
xl.append("tspan").text("Log");
xl.append("tspan").attr("dy", 12).style("font-size", "41px").text("10");
xl.append("tspan").attr("dy", -12).text("(Period [AAVSO; days])");
</script>
</body>
</html>
